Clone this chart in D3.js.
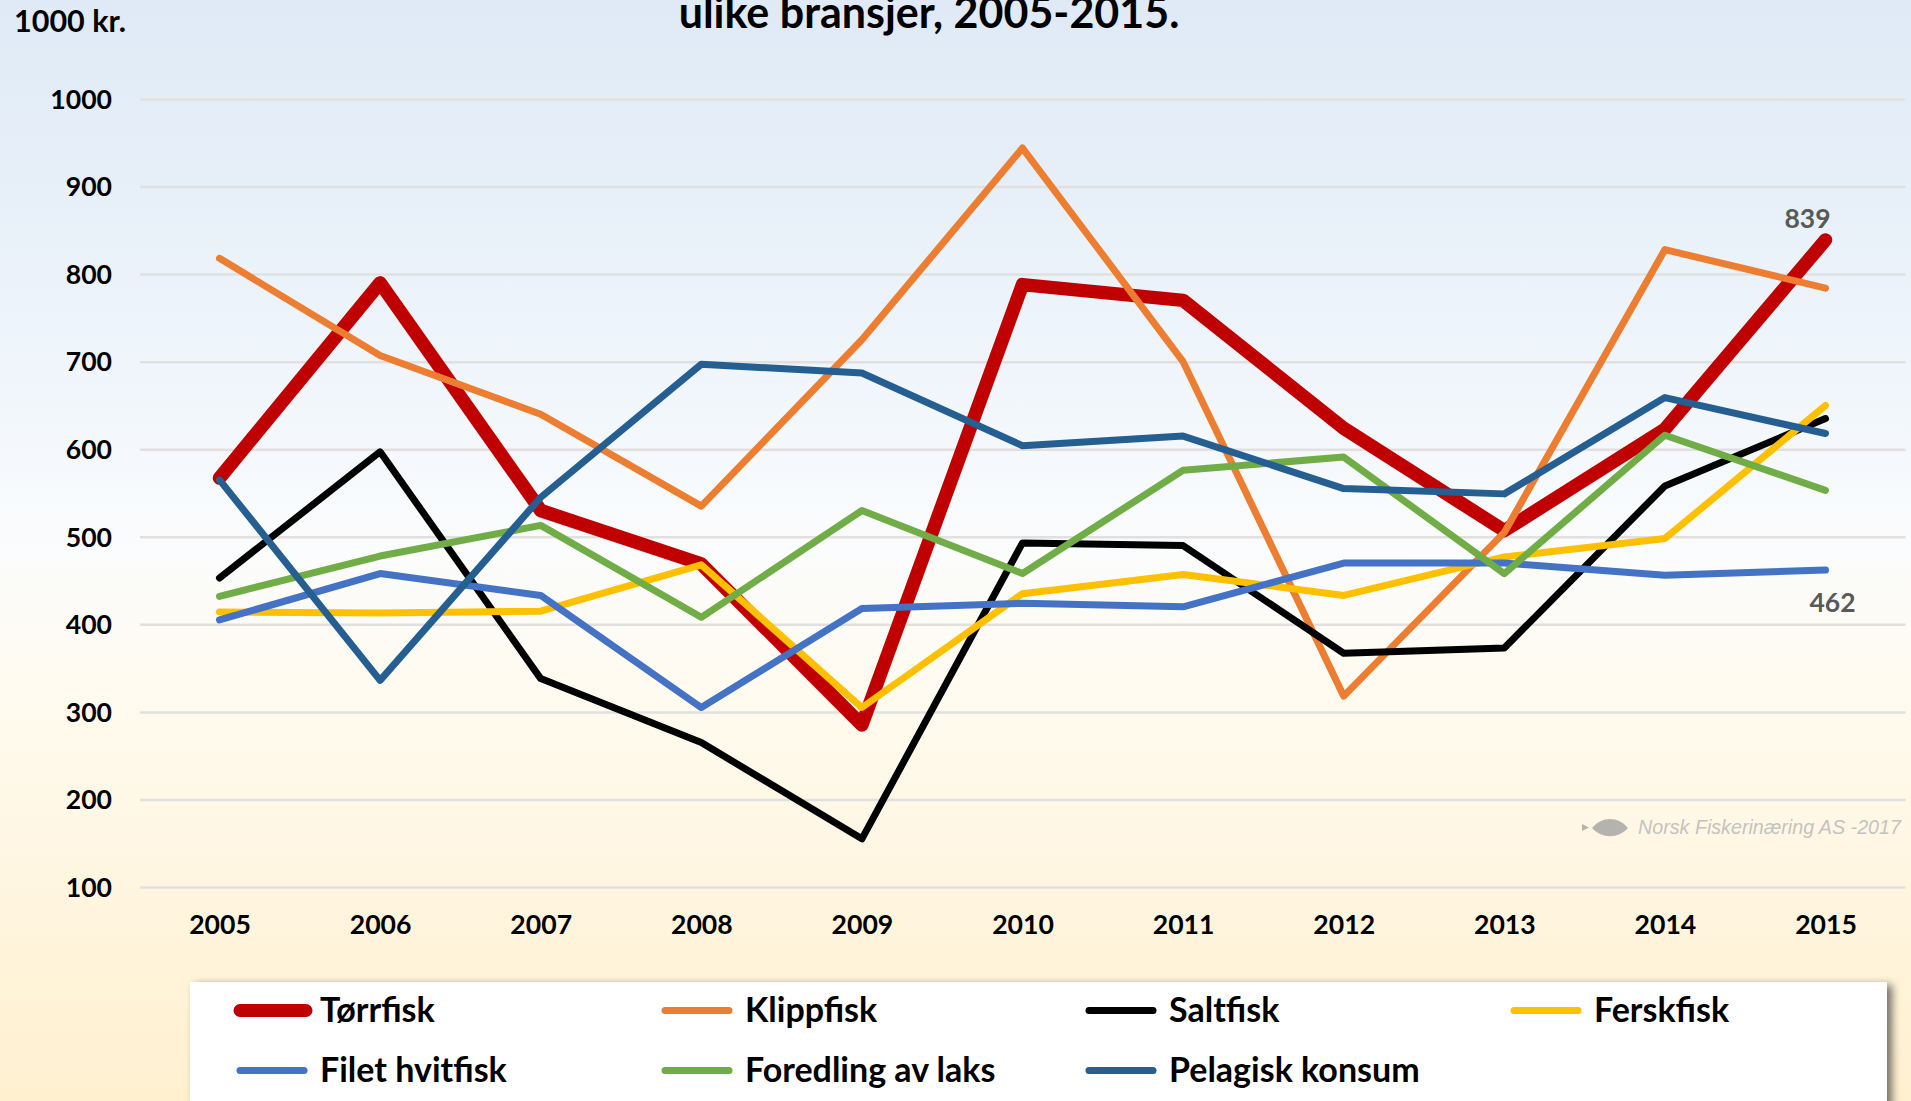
<!DOCTYPE html>
<html><head><meta charset="utf-8">
<script src="https://cdn.jsdelivr.net/npm/d3@7/dist/d3.min.js"></script>
<style>
html,body{margin:0;padding:0;overflow:hidden;background:#fff}
svg{display:block}
text{font-family:Lato,sans-serif;font-weight:700;fill:#000}
</style></head><body>
<script>
const years=[2005,2006,2007,2008,2009,2010,2011,2012,2013,2014,2015];
const yTicks=[100,200,300,400,500,600,700,800,900,1000];
const names=["Tørrfisk","Klippfisk","Saltfisk","Ferskfisk","Filet hvitfisk","Foredling av laks","Pelagisk konsum"];
const torrfisk=[567,790,530,469,285,788,770,624,507,623,839];
const klippfisk=[818,707,640,535,725,944,700,318,505,828,784];
const saltfisk=[453,597,338,265,155,493,490,367,373,558,635];
const ferskfisk=[414,413,415,468,305,435,457,433,477,498,650];
const filet=[405,458,433,305,418,424,420,470,470,456,462];
const foredling=[432,478,513,408,530,458,576,591,458,616,553];
const pelagisk=[565,336,545,697,687,604,615,555,549,659,618];
const seriesValues=[torrfisk,klippfisk,saltfisk,ferskfisk,filet,foredling,pelagisk];
const colors=["#c00000","#ed7d31","#000000","#ffc000","#4472c4","#70ad47","#255e91"];
const widths=[13.5,7,7,7,7,7,7];
const W=1911,H=1101;
const svg=d3.select("body").append("svg").attr("width",W).attr("height",H);
const defs=svg.append("defs");
const g=defs.append("linearGradient").attr("id","bg").attr("x1",0).attr("y1",0).attr("x2",0).attr("y2",1);
[[0,"#dfeaf6"],[0.3,"#edf4fb"],[0.5,"#fbfcfd"],[0.62,"#fffbf0"],[1,"#fff0cf"]].forEach(d=>g.append("stop").attr("offset",d[0]).attr("stop-color",d[1]));
const f=defs.append("filter").attr("id","sh").attr("x","-3%").attr("y","-10%").attr("width","106%").attr("height","120%");
f.append("feDropShadow").attr("dx",5).attr("dy",3).attr("stdDeviation",4).attr("flood-color","#000").attr("flood-opacity",0.55);
svg.append("rect").attr("width",W).attr("height",H).attr("fill","url(#bg)");

const x=d3.scalePoint().domain(years).range([219.5,1825.5]);
const y=d3.scaleLinear().domain([100,1000]).range([887,99]);

const ya=svg.append("g").attr("transform","translate(140,0)")
  .call(d3.axisLeft(y).tickValues(yTicks).tickSize(-1765.5).tickPadding(28).tickFormat(d3.format("d")));
ya.select(".domain").remove();
ya.selectAll("line").attr("stroke","#e2e0df").attr("stroke-width",2.5);
ya.selectAll("text").style("font-size","26.6px").attr("fill","#000").attr("dy","0.35em");

const xa=svg.append("g").attr("transform","translate(0,887)")
  .call(d3.axisBottom(x).tickSize(0).tickPadding(28).tickFormat(d3.format("d")));
xa.select(".domain").remove();
xa.selectAll("text").style("font-size","26.6px").attr("fill","#000");

svg.append("text").attr("x",14).attr("y",32).style("font-size","30.5px").text("1000 kr.");
svg.append("text").attr("x",929).attr("y",28).attr("text-anchor","middle").style("font-size","43px").text("ulike bransjer, 2005-2015.");

const line=d3.line().x((d,i)=>x(years[i])).y(d=>y(d));
svg.append("g").selectAll("path").data(seriesValues).join("path")
  .attr("d",line).attr("fill","none")
  .attr("stroke",(d,i)=>colors[i]).attr("stroke-width",(d,i)=>widths[i])
  .attr("stroke-linecap","round").attr("stroke-linejoin","round");

const endLabels=[{v:torrfisk[10],dx:-18,dy:-12},{v:filet[10],dx:7,dy:42}];
svg.append("g").selectAll("text").data(endLabels).join("text")
  .attr("x",d=>x(2015)+d.dx).attr("y",d=>y(d.v)+d.dy).attr("text-anchor","middle")
  .style("font-size","26.5px").style("fill","#595959").text(d=>d.v);

// watermark
const wm=svg.append("g");
wm.append("path").attr("d","M1582 824 l7 3.5 l-7 3.5 z").attr("fill","#b5b3ae");
wm.append("path").attr("d","M1592 828 C1602 816,1618 816,1628 828 C1618 839,1602 839,1592 828 z").attr("fill","#b5b3ae");
wm.append("text").attr("x",1638).attr("y",834).style("font-family","'Liberation Sans',sans-serif").style("font-weight","400").style("font-style","italic").style("font-size","19.7px").style("fill","#c4c3bf").text("Norsk Fiskerinæring AS -2017");

// legend
svg.append("rect").attr("x",190).attr("y",982).attr("width",1697).attr("height",140).attr("fill","#fff").attr("filter","url(#sh)");
const colX=[240,665,1089,1514], rowY=[1010.5,1070.5];
const leg=svg.append("g").selectAll("g").data(names).join("g")
  .attr("transform",(d,i)=>`translate(${colX[i%4]},${rowY[Math.floor(i/4)]})`);
leg.append("line").attr("x1",0).attr("x2",(d,i)=>i===0?66:64).attr("y1",0).attr("y2",0)
  .attr("stroke",(d,i)=>colors[i]).attr("stroke-width",(d,i)=>i===0?13:7).attr("stroke-linecap","round");
leg.append("text").attr("x",80).attr("y",11).style("font-size","34px").text(d=>d);
</script>
</body></html>
